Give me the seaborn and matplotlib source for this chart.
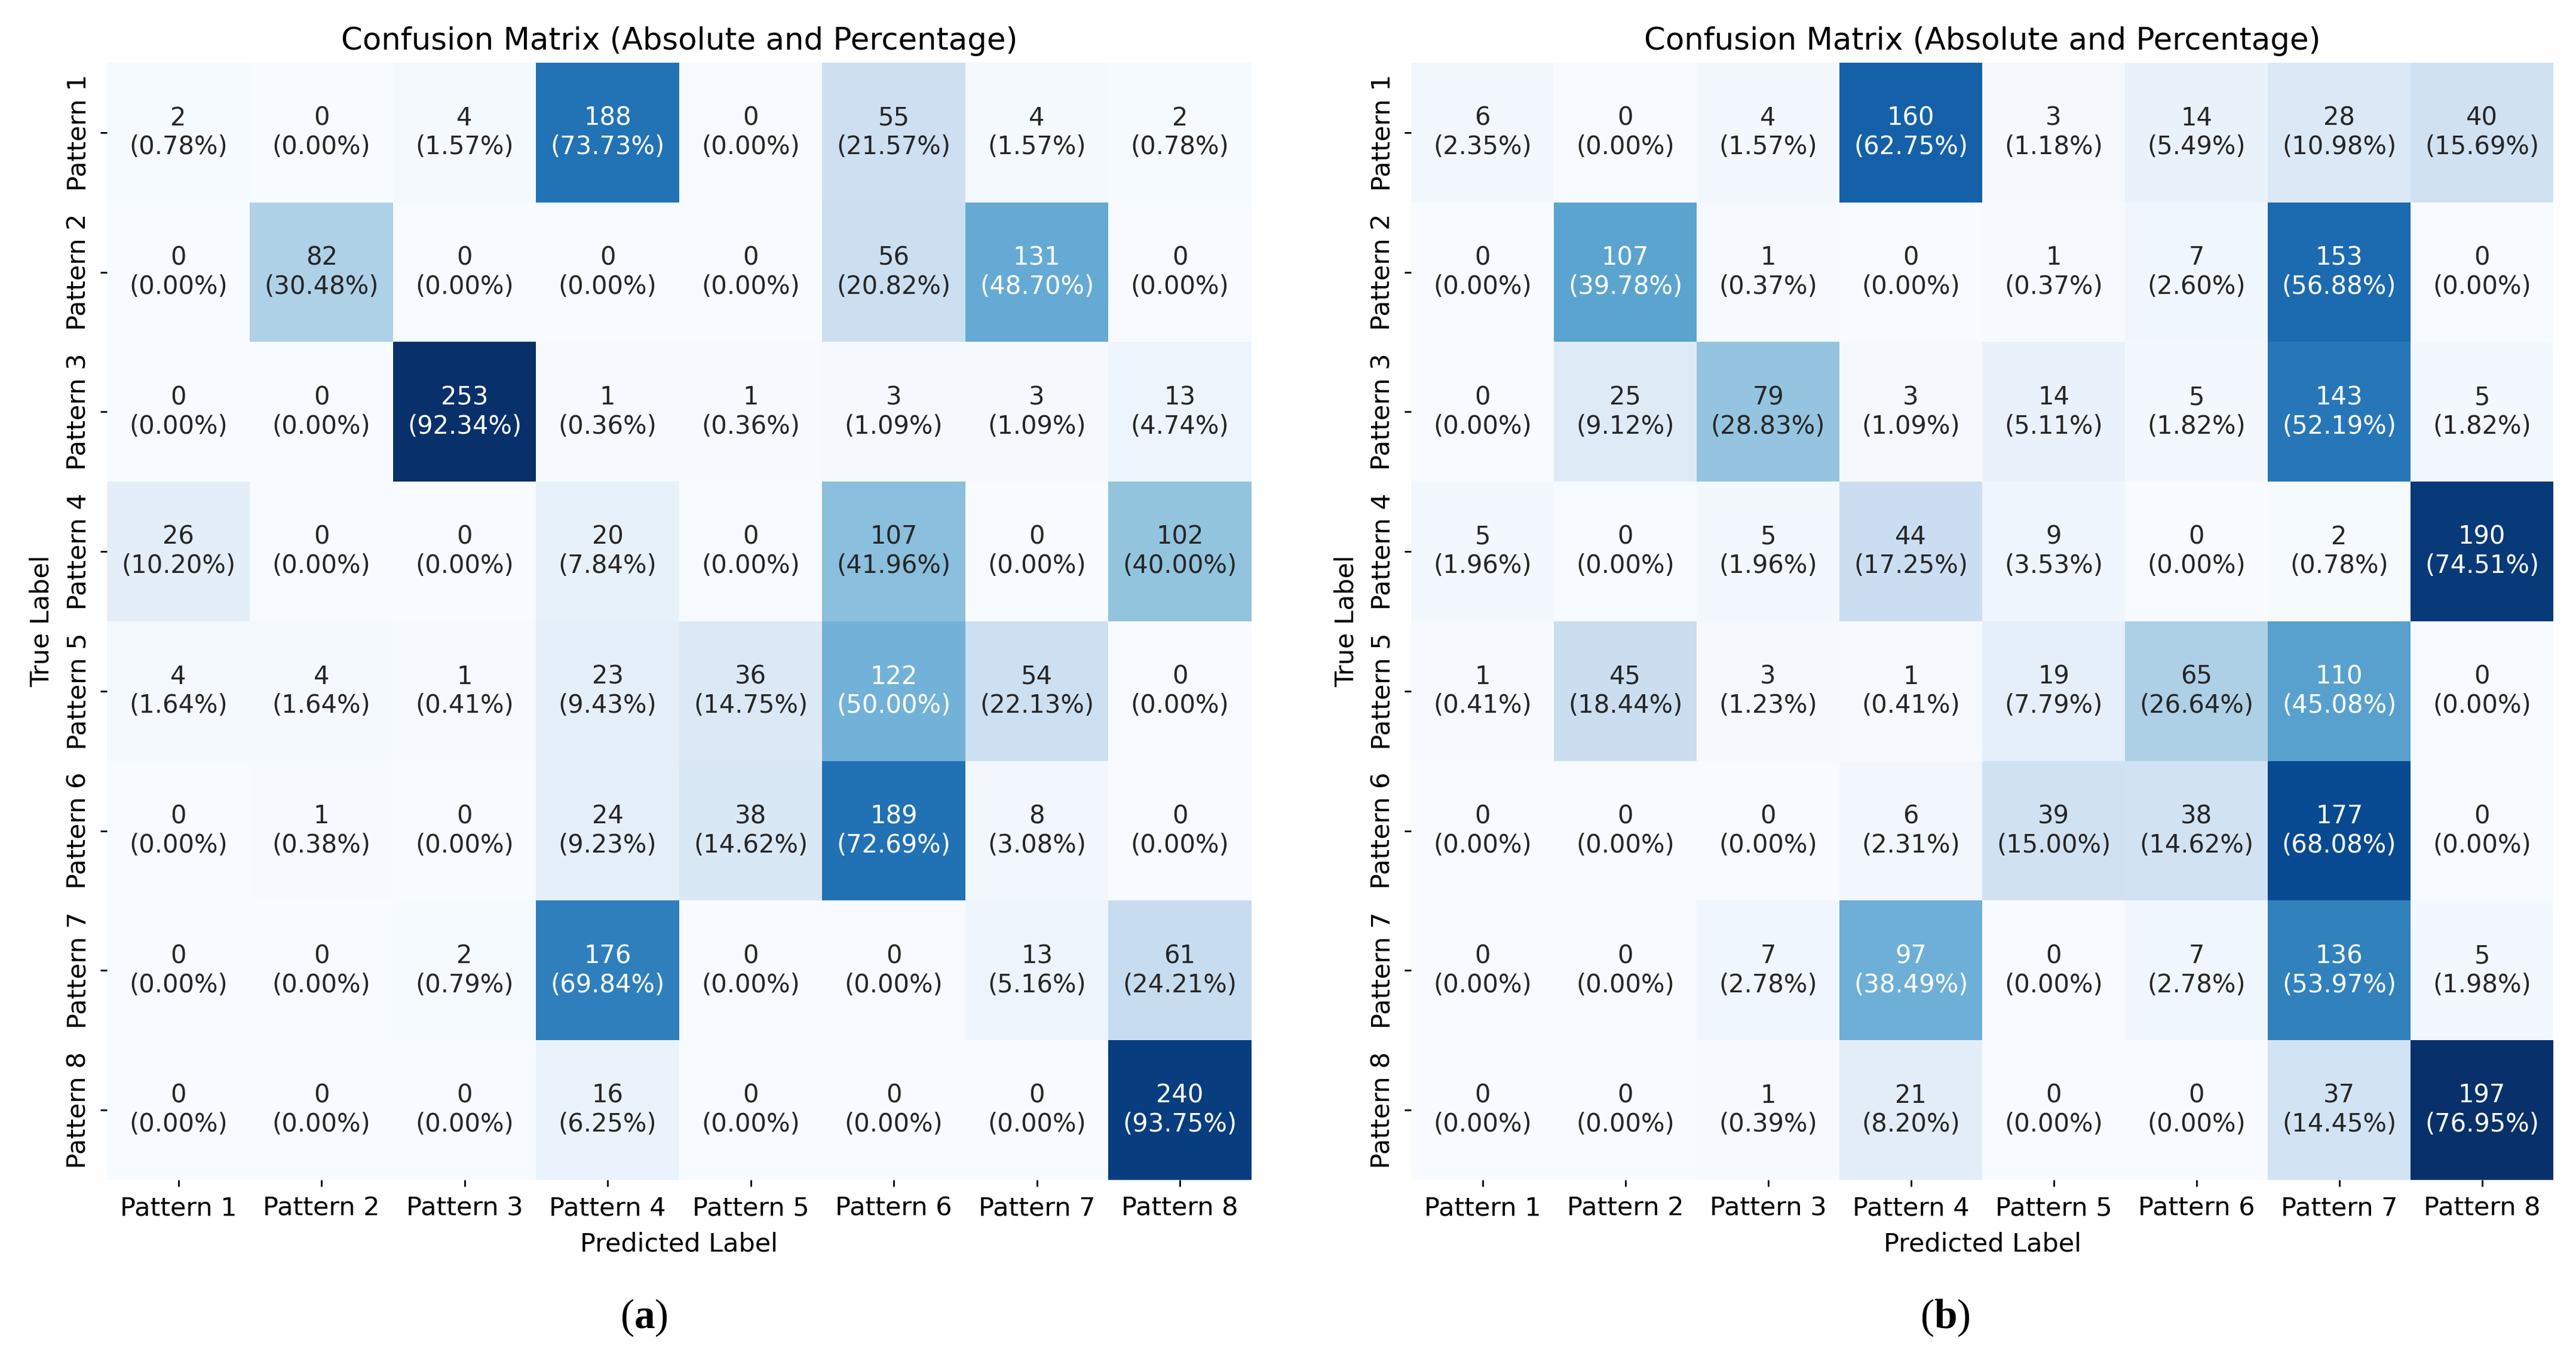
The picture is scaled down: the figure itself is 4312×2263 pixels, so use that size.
import numpy as np
import seaborn as sns
import matplotlib
matplotlib.use('Agg')
import matplotlib.pyplot as plt

# Rótulos das classes
patterns = ['Pattern 1', 'Pattern 2', 'Pattern 3', 'Pattern 4',
            'Pattern 5', 'Pattern 6', 'Pattern 7', 'Pattern 8']

# Matriz de confusão (a)
cm_a = [
    [2, 0, 4, 188, 0, 55, 4, 2],
    [0, 82, 0, 0, 0, 56, 131, 0],
    [0, 0, 253, 1, 1, 3, 3, 13],
    [26, 0, 0, 20, 0, 107, 0, 102],
    [4, 4, 1, 23, 36, 122, 54, 0],
    [0, 1, 0, 24, 38, 189, 8, 0],
    [0, 0, 2, 176, 0, 0, 13, 61],
    [0, 0, 0, 16, 0, 0, 0, 240],
]

# Matriz de confusão (b)
cm_b = [
    [6, 0, 4, 160, 3, 14, 28, 40],
    [0, 107, 1, 0, 1, 7, 153, 0],
    [0, 25, 79, 3, 14, 5, 143, 5],
    [5, 0, 5, 44, 9, 0, 2, 190],
    [1, 45, 3, 1, 19, 65, 110, 0],
    [0, 0, 0, 6, 39, 38, 177, 0],
    [0, 0, 7, 97, 0, 7, 136, 5],
    [0, 0, 1, 21, 0, 0, 37, 197],
]

panel_tags = ['a', 'b']

plt.rcParams['font.family'] = ['DejaVu Sans']
plt.rcParams['mathtext.fontset'] = 'custom'
plt.rcParams['mathtext.rm'] = 'Liberation Serif'
plt.rcParams['mathtext.bf'] = 'Liberation Serif:bold'

fig = plt.figure(figsize=(43.12, 22.63), dpi=100)
ax_a = fig.add_axes([0.0415, 0.1273, 0.4443, 0.8263])
ax_b = fig.add_axes([0.5478, 0.1273, 0.4434, 0.8263])


def plot_cm(ax, cm):
    cm = np.array(cm)
    pct = cm / cm.sum(axis=1, keepdims=True) * 100
    labels = np.array([[f'{cm[i, j]}\n({pct[i, j]:.2f}%)' for j in range(cm.shape[1])]
                       for i in range(cm.shape[0])])
    sns.heatmap(cm, annot=labels, fmt='', cmap='Blues', cbar=False,
                xticklabels=patterns, yticklabels=patterns, ax=ax,
                annot_kws={'size': 30})
    ax.set_title('Confusion Matrix (Absolute and Percentage)', fontsize=37, pad=16)
    ax.set_xlabel('Predicted Label', fontsize=31, labelpad=13)
    ax.set_ylabel('True Label', fontsize=31, labelpad=14)
    ax.tick_params(axis='both', labelsize=31, length=8, width=2, pad=11,
                   bottom=True, left=True)
    plt.setp(ax.get_yticklabels(), rotation=90, va='center')


plot_cm(ax_a, cm_a)
plot_cm(ax_b, cm_b)

for x, tag in zip([0.25, 0.755], panel_tags):
    fig.text(x, 0.025, r'($\mathbf{' + tag + r'}$)', ha='center', va='center',
             fontsize=50, fontfamily='Liberation Serif')

fig.savefig('out.png', dpi=100)
